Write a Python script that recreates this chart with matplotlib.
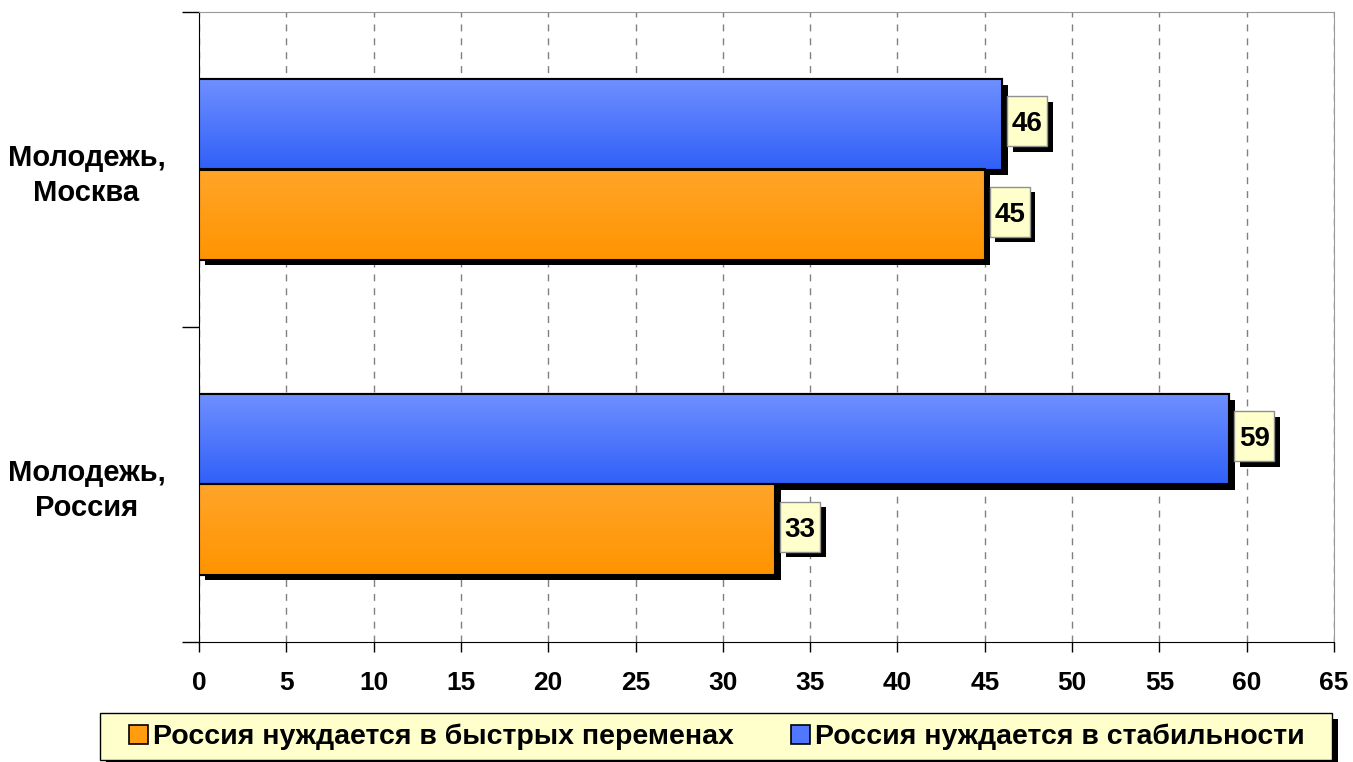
import numpy as np
import matplotlib.pyplot as plt
import matplotlib.patheffects as pe
from matplotlib.patches import Rectangle
from matplotlib.colors import LinearSegmentedColormap

plt.rcParams['font.family'] = ['Liberation Sans', 'DejaVu Sans']
plt.rcParams['font.weight'] = 'bold'

categories = ["Молодежь,\nРоссия", "Молодежь,\nМосква"]
series_names = ["Россия нуждается в быстрых переменах", "Россия нуждается в стабильности"]
changes = [33, 45]
stability = [59, 46]
x_ticks = list(range(0, 70, 5))

W, H = 1353, 762
orange_grad = LinearSegmentedColormap.from_list("og", ["#ff9400", "#ffa52a"])
blue_grad = LinearSegmentedColormap.from_list("bg", ["#3060f8", "#7090ff"])

fig = plt.figure(figsize=(W / 100, H / 100), dpi=100)
ax = fig.add_axes([199/W, 1 - 642/H, 1135/W, 630/H])

y = np.arange(len(categories)) + 0.5
h = 0.286
shadow = [pe.SimplePatchShadow(offset=(4, -4), shadow_rgbFace='black', alpha=1.0), pe.Normal()]
labels = []

def draw_bars(ypos, vals, cmap, face):
    bars = ax.barh(ypos, vals, height=h, color=face, edgecolor='black', lw=1.5, zorder=3)
    grad = np.linspace(0, 1, 256).reshape(-1, 1)
    for b in bars:
        b.set_path_effects(shadow)
        x0, y0 = b.get_x(), b.get_y()
        im = ax.imshow(grad, cmap=cmap, aspect='auto', origin='lower',
                       extent=[x0, x0 + b.get_width(), y0, y0 + b.get_height()], zorder=3.5)
        im.set_clip_path(b)
        ax.add_patch(Rectangle((x0, y0), b.get_width(), b.get_height(), fill=False,
                               edgecolor='black', lw=1.5, zorder=4))
    for yy, v in zip(ypos, vals):
        labels.append((v, yy))
    return bars

b1 = draw_bars(y - h / 2, changes, orange_grad, '#ff9c10')
b2 = draw_bars(y + h / 2, stability, blue_grad, '#5078ff')

ax.set_xlim(0, 65)
ax.set_ylim(0, 2)

# value labels: yellow boxes 40x50 px right of the bar end
for v, yy in labels:
    px, py = ax.transData.transform((v, yy))
    bx0, by0 = px + 5, py + 3 - 25
    inv = fig.transFigure.inverted()
    (fx0, fy0) = inv.transform((bx0, by0))
    (fx1, fy1) = inv.transform((bx0 + 40, by0 + 50))
    box = Rectangle((fx0, fy0), fx1 - fx0, fy1 - fy0, transform=fig.transFigure,
                    fc='#ffffcc', ec='#909090', lw=1, zorder=6)
    box.set_path_effects([pe.SimplePatchShadow(offset=(4, -4), shadow_rgbFace='black', alpha=1.0),
                          pe.Normal()])
    fig.add_artist(box)
    fig.text((fx0 + fx1) / 2, (fy0 + fy1) / 2, str(v), ha='center', va='center_baseline',
             fontsize=20, fontweight='bold', zorder=7)

ax.set_xticks(x_ticks)
ax.tick_params(axis='x', direction='out', length=7, width=1, labelsize=19, pad=14)
ax.set_yticks(y)
ax.set_yticklabels(categories, fontsize=21, fontweight='bold', ha='center', multialignment='center',
                   linespacing=1.3)
ax.tick_params(axis='y', length=0, pad=81)
ax.set_yticks([0, 1, 2], minor=True)
ax.tick_params(axis='y', which='minor', direction='out', length=12, width=1)
for lab in ax.get_xticklabels():
    lab.set_fontweight('bold')
ax.xaxis.grid(True, color='#808080', ls=(0, (5, 5)), lw=1)
ax.set_axisbelow(True)
ax.spines['top'].set_color('#999999')
ax.spines['right'].set_color('#999999')
ax.spines['left'].set_color('black')
ax.spines['bottom'].set_color('black')

# legend frame
frame = Rectangle((100 / W, 1 - 760 / H), 1232 / W, 47 / H, transform=fig.transFigure,
                  fc='#ffffcc', ec='black', lw=1, zorder=1)
frame.set_path_effects([pe.SimplePatchShadow(offset=(4, -4), shadow_rgbFace='black', alpha=1.0),
                        pe.Normal()])
fig.add_artist(frame)

handles = [Rectangle((0, 0), 1, 1, fc='#ff9c10', ec='black', lw=1.2),
           Rectangle((0, 0), 1, 1, fc='#5078ff', ec='black', lw=1.2)]
leg = fig.legend(handles, series_names, loc='center', bbox_to_anchor=(717/W, 1 - 737/H),
                 ncol=2, frameon=False,
                 prop={'size': 20.5, 'weight': 'bold'}, handlelength=0.65, handleheight=0.65,
                 handletextpad=0.2, columnspacing=2.0, borderpad=0.3, borderaxespad=0)
leg.set_zorder(2)

fig.savefig('out.png', dpi=100)
